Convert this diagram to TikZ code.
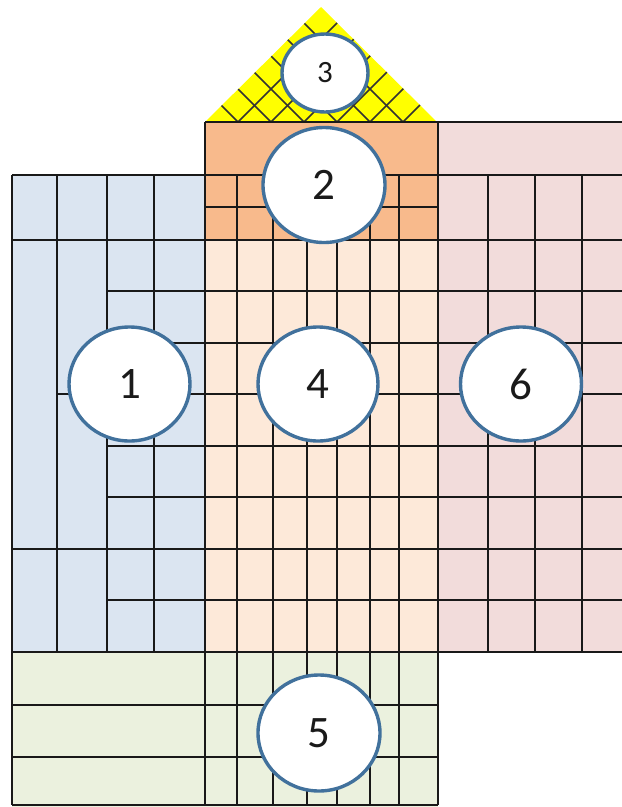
\documentclass[tikz,border=0pt]{standalone}
\usepackage{fontspec}
\setmainfont{Carlito}
\usetikzlibrary{shapes.geometric}
\definecolor{blueF}{HTML}{DBE5F1}
\definecolor{orangeL}{HTML}{FDE9D9}
\definecolor{orangeD}{HTML}{F8BA8C}
\definecolor{pinkF}{HTML}{F2DCDB}
\definecolor{greenF}{HTML}{EBF1DE}
\definecolor{yellowF}{HTML}{FFFF00}
\definecolor{ringC}{HTML}{41719C}
\definecolor{digitC}{HTML}{1A1A1A}
\tikzset{
  gridline/.style={draw=black!90, line width=1.2pt},
  hatchline/.style={draw=black!80, line width=1.5pt},
  badge/.style={ellipse, draw=ringC, line width=3.4pt, fill=white, inner sep=0pt,
    text=digitC, font=\fontsize{45}{45}\selectfont},
  smallbadge/.style={badge, font=\fontsize{31}{31}\selectfont}
}
\begin{document}
\begin{tikzpicture}[x=1pt,y=-1pt]
\useasboundingbox (0,0) rectangle (622,807);
% fills
\fill[blueF] (12,175) rectangle (205,652);
\fill[orangeD] (205,122) rectangle (438,240);
\fill[orangeL] (205,240) rectangle (438,652);
\fill[pinkF] (438,122) rectangle (622,652);
\fill[greenF] (12,652) rectangle (438,807);
% roof
\begin{scope}
  \fill[yellowF] (205,122) -- (321,7) -- (437,122) -- cycle;
  \clip (205,122) -- (321,7) -- (437,122) -- cycle;
  \foreach \k in {1,...,6}{
    \draw[hatchline] ({205+33*\k},122) -- ({205+33*\k-130},-8);
    \draw[hatchline] ({205+33*\k},122) -- ({205+33*\k+130},-8);
  }
\end{scope}
% horizontal lines
\draw[gridline] (205,122) -- (622,122);
\draw[gridline] (12,175) -- (622,175);
\draw[gridline] (205,207) -- (438,207);
\draw[gridline] (12,240) -- (622,240);
\draw[gridline] (107,291) -- (622,291);
\draw[gridline] (107,343) -- (622,343);
\draw[gridline] (57,394) -- (622,394);
\draw[gridline] (107,446) -- (622,446);
\draw[gridline] (107,497) -- (622,497);
\draw[gridline] (12,549) -- (622,549);
\draw[gridline] (107,600) -- (622,600);
\draw[gridline] (12,652) -- (622,652);
\draw[gridline] (12,705) -- (438,705);
\draw[gridline] (12,757) -- (438,757);
\draw[gridline] (12,805) -- (438,805);
% vertical lines
\draw[gridline] (12,175) -- (12,805);
\foreach \x in {57,107,154}{\draw[gridline] (\x,175) -- (\x,652);}
\draw[gridline] (205,122) -- (205,805);
\foreach \x in {237,273,307,337,370,399}{\draw[gridline] (\x,175) -- (\x,805);}
\draw[gridline] (438,122) -- (438,805);
\foreach \x in {488,535,582}{\draw[gridline] (\x,175) -- (\x,652);}
% badges
\node[badge, minimum width=121pt, minimum height=114pt] (n1) at (129.5,384) {1};
\node[badge, minimum width=122pt, minimum height=115pt] (n2) at (324,185) {2};
\node[smallbadge, minimum width=86pt, minimum height=78pt] (n3) at (325,73) {3};
\node[badge, minimum width=120pt, minimum height=114pt] (n4) at (318,384) {4};
\node[badge, minimum width=122pt, minimum height=116pt] (n5) at (319,733) {5};
\node[badge, minimum width=121pt, minimum height=114pt] (n6) at (521,384) {6};
\end{tikzpicture}
\end{document}
